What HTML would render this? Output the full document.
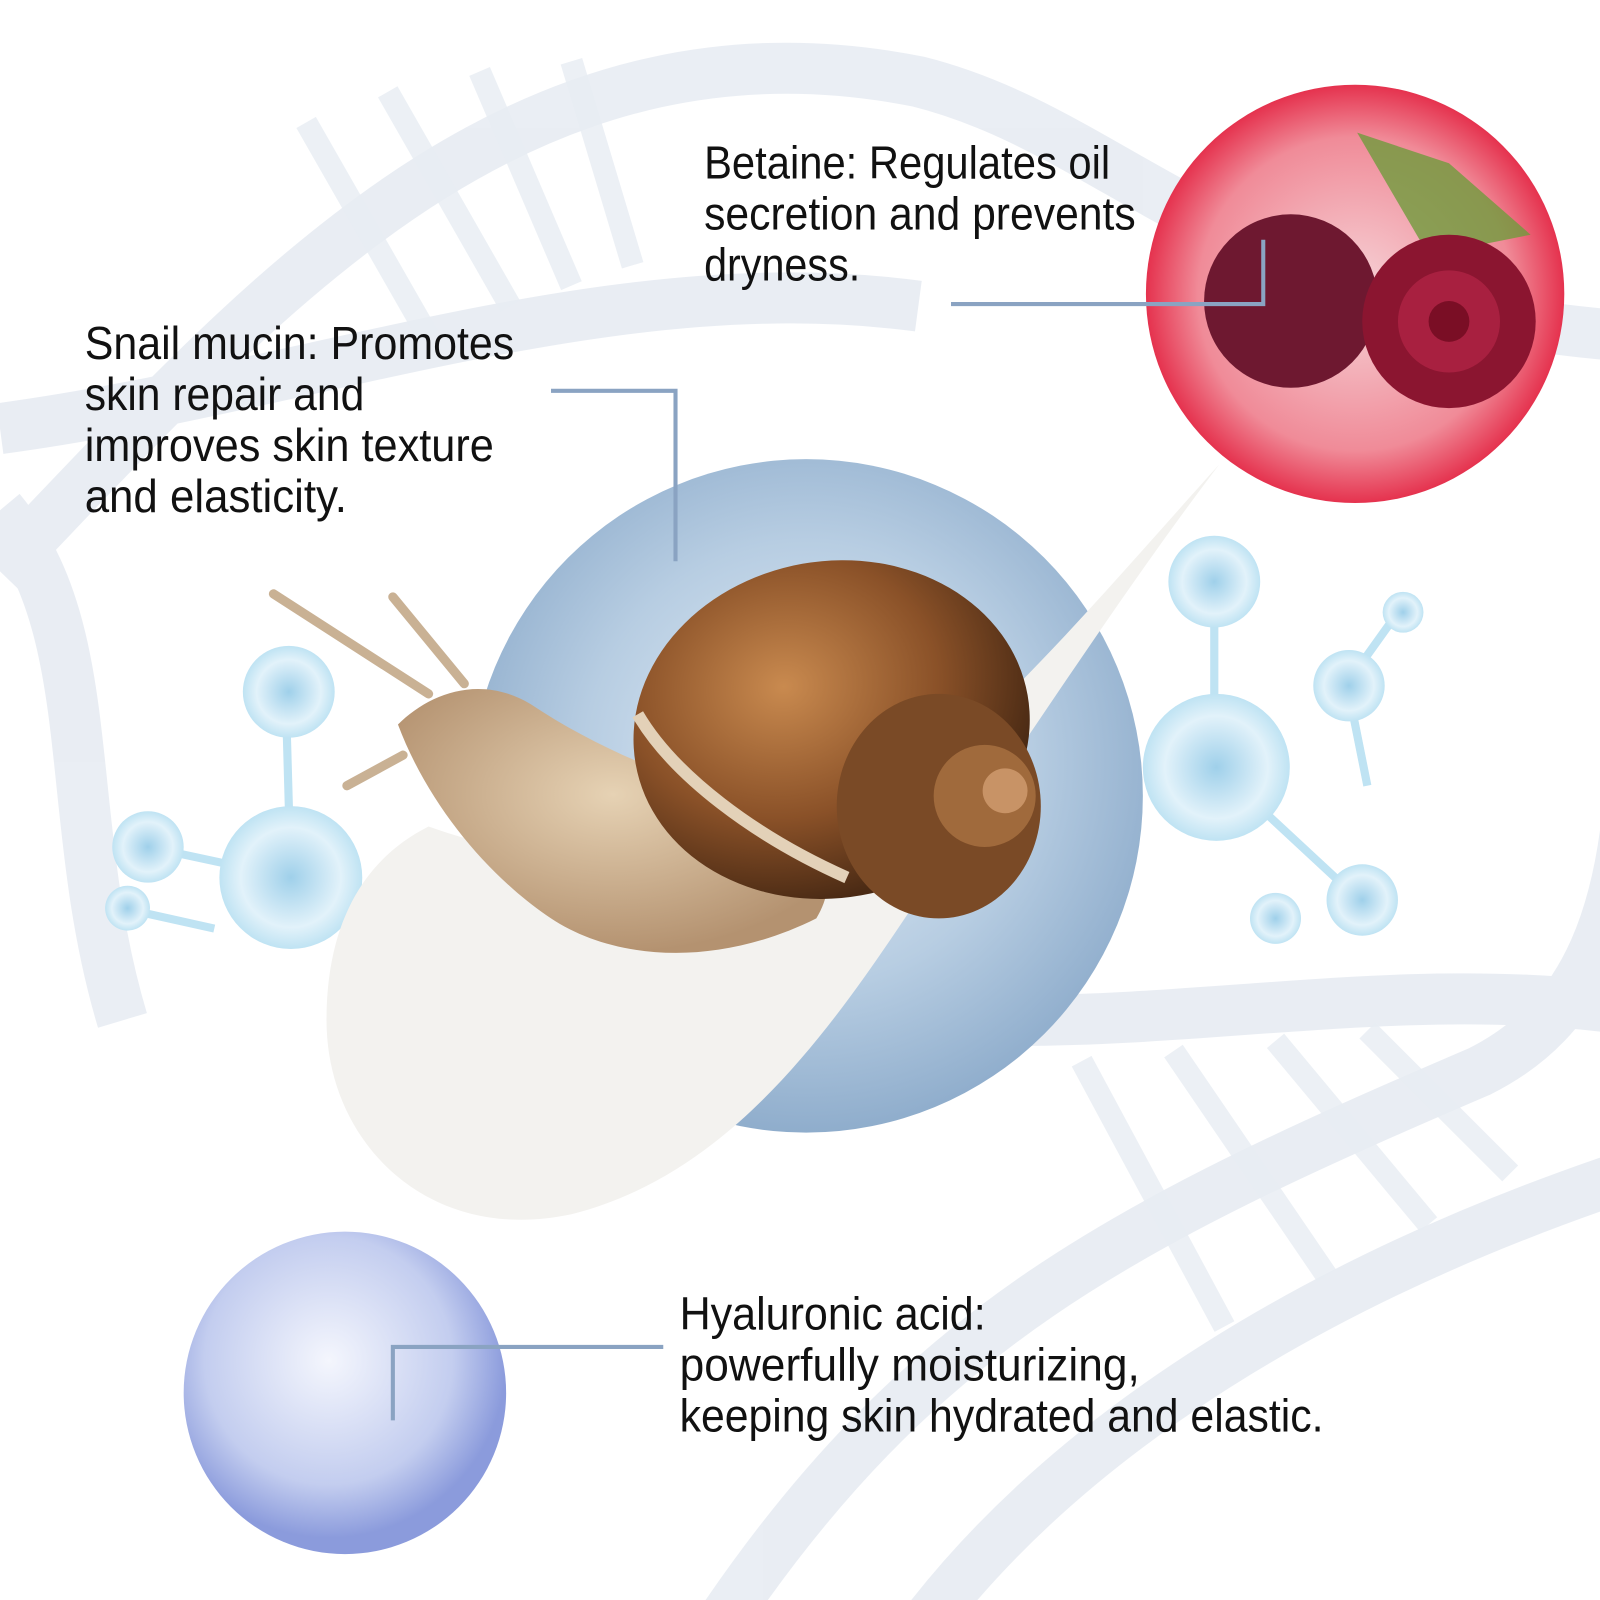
<!DOCTYPE html>
<html><head><meta charset="utf-8"><style>
html,body{margin:0;padding:0;background:#fff}
svg{display:block}
text{font-family:"Liberation Sans",sans-serif;font-size:45px;fill:#111}
</style></head><body>
<svg width="1600" height="1600" viewBox="0 0 1568 1568" xmlns="http://www.w3.org/2000/svg">
<defs>
<radialGradient id="gel" cx="50%" cy="45%" r="55%">
<stop offset="0" stop-color="#e4eef7"/><stop offset="0.6" stop-color="#b7cde2"/><stop offset="1" stop-color="#8fadcc"/></radialGradient>
<radialGradient id="beet" cx="50%" cy="50%" r="50%">
<stop offset="0" stop-color="#f6d4d8"/><stop offset="0.75" stop-color="#f08b98"/><stop offset="1" stop-color="#e5324e"/></radialGradient>
<radialGradient id="ha" cx="45%" cy="40%" r="55%">
<stop offset="0" stop-color="#f4f6fd"/><stop offset="0.7" stop-color="#c3cdef"/><stop offset="1" stop-color="#8b9bdc"/></radialGradient>
<radialGradient id="mol" cx="50%" cy="50%" r="50%">
<stop offset="0" stop-color="#9fd0ea"/><stop offset="0.7" stop-color="#e2f2fa"/><stop offset="1" stop-color="#bfe3f3"/></radialGradient>
<radialGradient id="shell" cx="40%" cy="35%" r="65%">
<stop offset="0" stop-color="#c98a4f"/><stop offset="0.6" stop-color="#8a5128"/><stop offset="1" stop-color="#4a2a14"/></radialGradient>
<radialGradient id="body" cx="50%" cy="40%" r="60%">
<stop offset="0" stop-color="#e6d2b4"/><stop offset="1" stop-color="#b49270"/></radialGradient>
</defs>
<g fill="none" stroke="#e6ebf2" stroke-width="50" opacity="0.85">
<path d="M0 560 C250 300 500 0 900 80 C1100 130 1200 300 1600 330"/>
<path d="M0 420 C300 380 600 260 900 300"/>
<path d="M1000 1000 C1200 1000 1400 960 1600 990"/>
<path d="M700 1600 C900 1300 1100 1200 1450 1050 C1550 1000 1600 900 1600 700"/>
<path d="M900 1600 C1050 1400 1300 1250 1600 1150"/>
<path d="M120 1000 C60 800 100 620 0 500"/>
</g>
<g stroke="#e8edf3" stroke-width="22" opacity="0.8">
<line x1="300" y1="120" x2="420" y2="330"/><line x1="380" y1="90" x2="500" y2="300"/><line x1="470" y1="70" x2="560" y2="280"/>
<line x1="560" y1="60" x2="620" y2="260"/><line x1="1060" y1="1040" x2="1200" y2="1300"/><line x1="1150" y1="1030" x2="1300" y2="1250"/>
<line x1="1250" y1="1020" x2="1400" y2="1200"/><line x1="1340" y1="1010" x2="1480" y2="1150"/>
</g>
<circle cx="790" cy="780" r="330" fill="url(#gel)"/>
<g stroke="#bfe3f3" stroke-width="8">
<line x1="280" y1="680" x2="285" y2="860"/><line x1="145" y1="830" x2="285" y2="860"/><line x1="120" y1="890" x2="210" y2="910"/>
<line x1="1190" y1="570" x2="1190" y2="750"/><line x1="1190" y1="750" x2="1330" y2="880"/><line x1="1320" y1="670" x2="1370" y2="600"/><line x1="1320" y1="670" x2="1340" y2="770"/>
</g>
<g fill="url(#mol)">
<circle cx="285" cy="860" r="70"/><circle cx="283" cy="678" r="45"/><circle cx="145" cy="830" r="35"/><circle cx="125" cy="890" r="22"/>
<circle cx="1192" cy="752" r="72"/><circle cx="1190" cy="570" r="45"/><circle cx="1322" cy="672" r="35"/><circle cx="1335" cy="882" r="35"/><circle cx="1250" cy="900" r="25"/><circle cx="1375" cy="600" r="20"/>
</g>
<path d="M1195 455 C1100 580 1010 720 900 880 C820 1000 720 1150 560 1190 C420 1220 320 1120 320 1000 C320 900 360 840 420 810 C560 860 760 870 900 760 C1000 680 1100 560 1195 455 Z" fill="#f3f2ef"/>
<path d="M390 710 C420 680 470 660 520 690 C580 730 650 760 720 780 C800 800 830 850 800 900 C700 950 600 940 540 900 C480 860 420 790 390 710 Z" fill="url(#body)"/>
<g stroke="#c9b194" stroke-width="9" stroke-linecap="round"><line x1="420" y1="680" x2="268" y2="582"/><line x1="455" y1="670" x2="385" y2="585"/><line x1="395" y1="740" x2="340" y2="770"/></g>
<ellipse cx="815" cy="715" rx="195" ry="165" transform="rotate(-10 815 715)" fill="url(#shell)"/>
<ellipse cx="920" cy="790" rx="100" ry="110" fill="#7a4a26"/>
<circle cx="965" cy="780" r="50" fill="#a06a3c"/><circle cx="985" cy="775" r="22" fill="#c89366"/>
<path d="M625 700 C660 760 740 820 830 860" stroke="#e3d1b8" stroke-width="12" fill="none"/>
<circle cx="1328" cy="288" r="205" fill="url(#beet)"/>
<path d="M1330 130 L1420 160 L1500 230 L1400 250 Z" fill="#6f9b3c" opacity="0.8"/>
<circle cx="1265" cy="295" r="85" fill="#6e1830"/>
<circle cx="1420" cy="315" r="85" fill="#8b1530"/>
<circle cx="1420" cy="315" r="50" fill="#a82040"/><circle cx="1420" cy="315" r="20" fill="#7a0e25"/>
<circle cx="338" cy="1365" r="158" fill="url(#ha)"/>
<g stroke="#8aa3c2" stroke-width="4" fill="none">
<polyline points="540,383 662,383 662,550"/>
<polyline points="932,298 1238,298 1238,235"/>
<polyline points="650,1320 385,1320 385,1392"/>
</g>
<text x="690" y="175" textLength="398" lengthAdjust="spacingAndGlyphs">Betaine: Regulates oil</text>
<text x="690" y="225" textLength="423" lengthAdjust="spacingAndGlyphs">secretion and prevents</text>
<text x="690" y="275" textLength="153" lengthAdjust="spacingAndGlyphs">dryness.</text>
<text x="83" y="352" textLength="421" lengthAdjust="spacingAndGlyphs">Snail mucin: Promotes</text>
<text x="83" y="402" textLength="274" lengthAdjust="spacingAndGlyphs">skin repair and</text>
<text x="83" y="452" textLength="401" lengthAdjust="spacingAndGlyphs">improves skin texture</text>
<text x="83" y="502" textLength="257" lengthAdjust="spacingAndGlyphs">and elasticity.</text>
<text x="666" y="1303" textLength="300" lengthAdjust="spacingAndGlyphs">Hyaluronic acid:</text>
<text x="666" y="1353" textLength="451" lengthAdjust="spacingAndGlyphs">powerfully moisturizing,</text>
<text x="666" y="1403" textLength="631" lengthAdjust="spacingAndGlyphs">keeping skin hydrated and elastic.</text>
</svg>
</body></html>
